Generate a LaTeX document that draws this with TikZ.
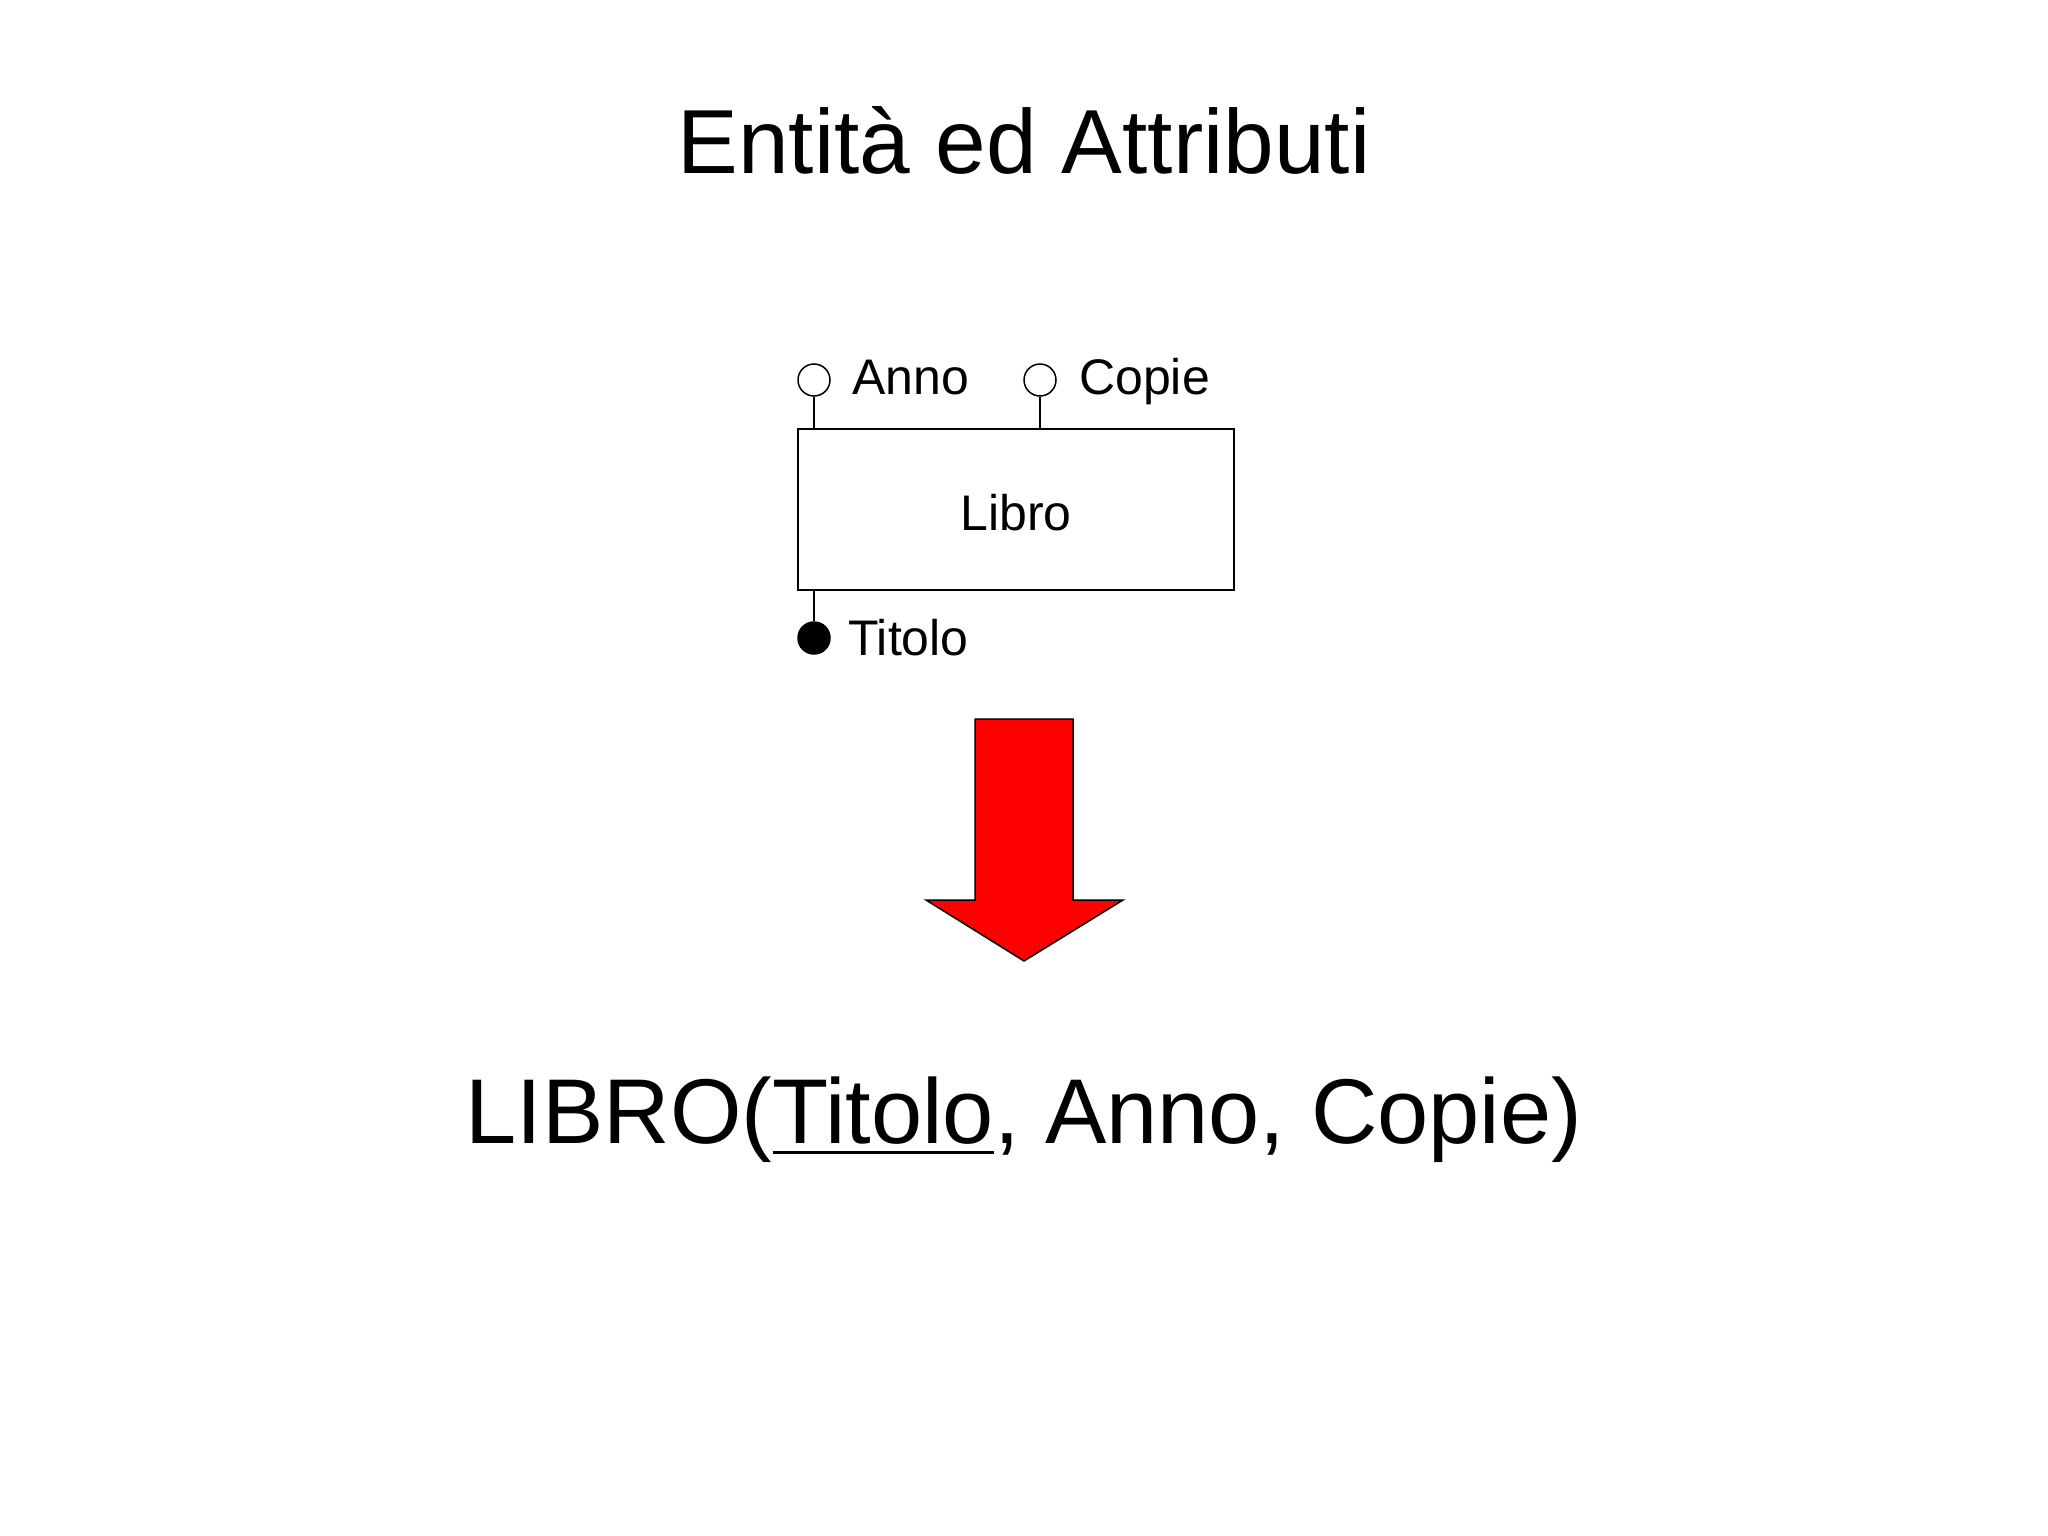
\documentclass[tikz,border=0pt]{standalone}
\usepackage{fontspec}
\setmainfont{Liberation Sans}
\newcommand\myul[1]{\setbox0\hbox{#1}\rlap{\rule[-10.5pt]{\wd0}{3pt}}\box0}
\begin{document}
\begin{tikzpicture}[x=1pt,y=-1pt,
  big/.style={inner sep=0pt,anchor=base,font=\fontsize{91}{100}\selectfont},
  lbl/.style={inner sep=0pt,anchor=base west,font=\fontsize{50}{60}\selectfont},
  attr/.style={circle,draw,line width=1.5pt,minimum size=32pt,inner sep=0pt},
  entity/.style={draw,line width=2pt,minimum width=436pt,minimum height=161pt,inner sep=0pt},
  conn/.style={line width=1.5pt},
  bigarrow/.style={fill=red,draw=black,line width=1.5pt,line join=miter}]
\useasboundingbox (0,0) rectangle (2048,1536);
\fill[white] (0,0) rectangle (2048,1536);
% title
\node[big] (title) at (1024,173) {Entità ed Attributi};
% entity
\node[entity] (libro) at (1015.5,509.5) {};
\node[inner sep=0pt,anchor=base,font=\fontsize{50}{60}\selectfont] (librolbl) at (1016,530) {Libro};
\node[attr,fill=white] (anno) at (814,380) {};
\node[attr,fill=white] (copie) at (1040,380) {};
\node[attr,fill=black] (titolo) at (814,638) {};
\draw[conn] (anno.south) -- (anno.south |- libro.north);
\draw[conn] (copie.south) -- (copie.south |- libro.north);
\draw[conn] (titolo.north |- libro.south) -- (titolo.north);
\node[lbl] (annolbl) at (852,394) {Anno};
\node[lbl] (copielbl) at (1079,394) {Copie};
\node[lbl] (titololbl) at (848,655) {Titolo};
% arrow
\draw[bigarrow] (975,719) -- (1073,719) -- (1073,900) -- (1123,900) -- (1024,961) -- (926,900) -- (975,900) -- cycle;
% relational schema
\node[big,font=\fontsize{92}{100}\selectfont] (schema) at (1024,1143) {LIBRO(\myul{Titolo}, Anno, Copie)};
\end{tikzpicture}
\end{document}
